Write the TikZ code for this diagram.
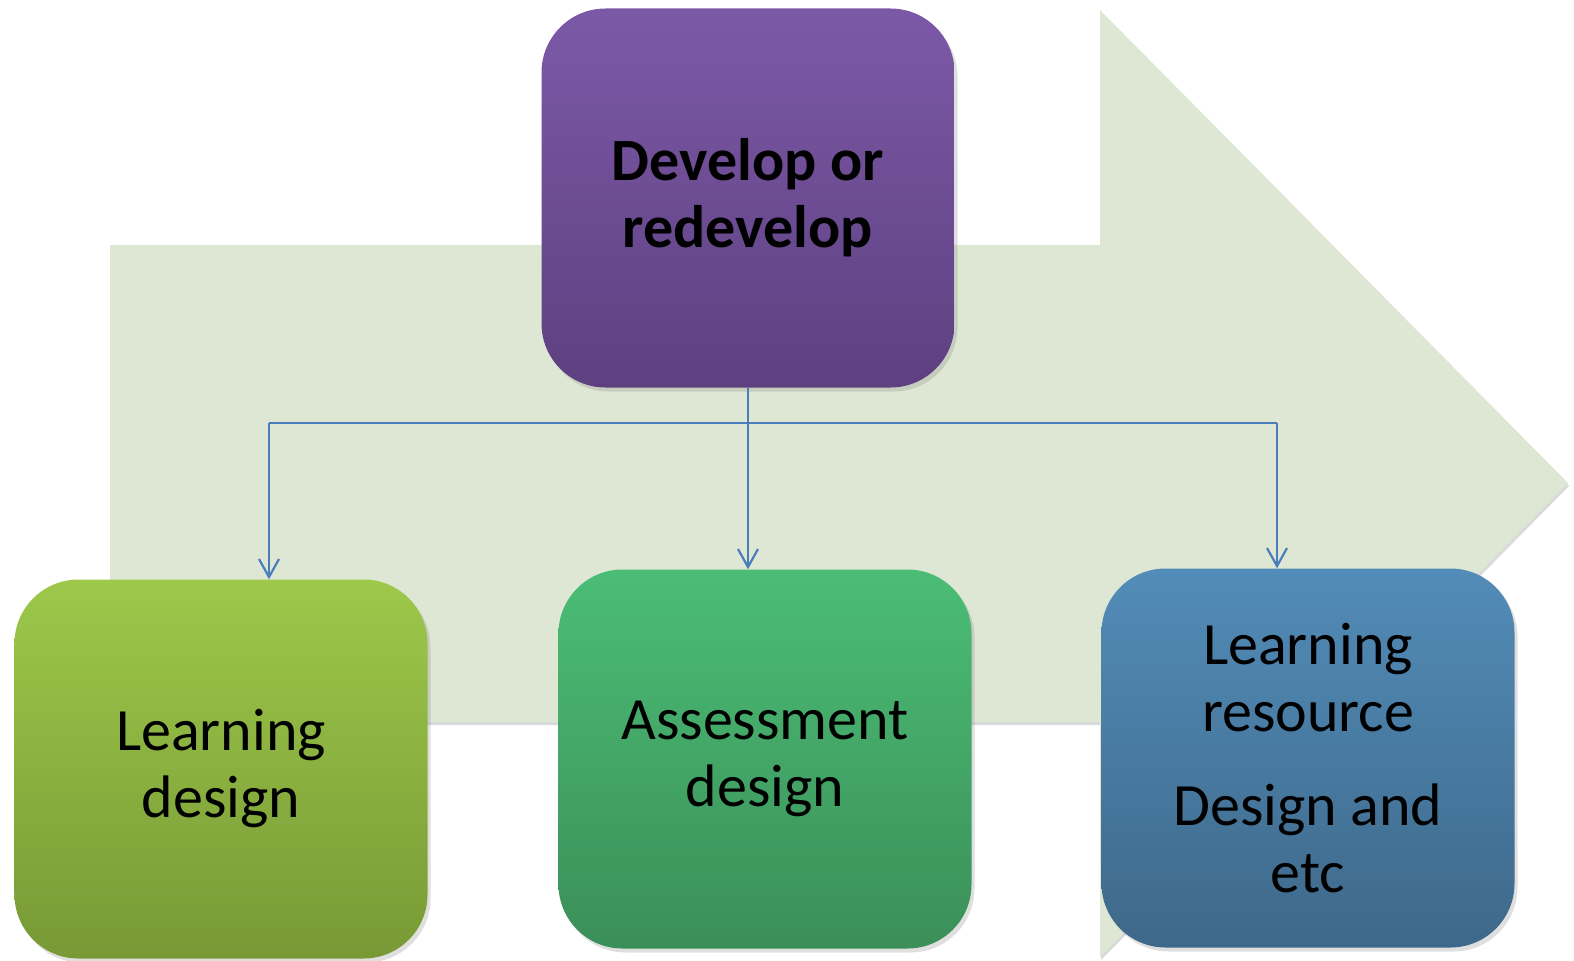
\documentclass[tikz,border=0pt]{standalone}
\usepackage{fontspec}
\setmainfont{Carlito}
\usetikzlibrary{arrows.meta,shadows}

\definecolor{arrowgreen}{HTML}{DEE7D3}
\definecolor{linkblue}{HTML}{4A7EBB}
\definecolor{devtop}{HTML}{7C59A7}
\definecolor{devbot}{HTML}{5E4080}
\definecolor{learntop}{HTML}{9DC84A}
\definecolor{learnbot}{HTML}{789935}
\definecolor{assesstop}{HTML}{4BBD75}
\definecolor{assessbot}{HTML}{3B8F59}
\definecolor{restop}{HTML}{528CB8}
\definecolor{resbot}{HTML}{3E6889}

\newcommand{\boxfont}{\fontsize{60bp}{67bp}\selectfont}

\begin{document}
\begin{tikzpicture}[x=1bp,y=-1bp,
	stepbox/.style={rounded corners=64bp,minimum width=413bp,minimum height=379bp,
		inner sep=0pt,align=center,font=\boxfont,
		drop shadow={opacity=0.25,shadow xshift=3bp,shadow yshift=-4bp}},
	link/.style={draw=linkblue,line width=2.2bp,-{Straight Barb[length=18bp,width=20bp]}}]
	\useasboundingbox (0,0) rectangle (1574,960);

	%big arrow behind
	\fill[arrowgreen,drop shadow={opacity=0.3,shadow xshift=1bp,shadow yshift=-3bp}]
		(110,245) -- (1100,245) -- (1100,10) -- (1568,483)
		-- (1100,957) -- (1100,722) -- (110,722) -- cycle;

	%boxes
	\node[stepbox,top color=devtop,bottom color=devbot,font=\boxfont\bfseries] (dev) at (748,198) {Develop or\\redevelop};
	\node[stepbox,top color=learntop,bottom color=learnbot] (learn) at (221,769) {Learning\\design};
	\node[stepbox,top color=assesstop,bottom color=assessbot] (assess) at (765,759) {Assessment\\design};
	\node[stepbox,top color=restop,bottom color=resbot] (res) at (1308,758) {Learning\\resource\\[27bp]Design and\\etc};

	%connectors
	\coordinate (lhook) at (269,423);
	\coordinate (rhook) at (1277,423);
	\draw[link] (dev.south) -- (dev.south |- assess.north);
	\draw[link,-] (lhook) -- (rhook);
	\foreach \hook/\target in {lhook/learn,rhook/res} {
		\draw[link] (\hook) -- (\hook |- \target.north);
	}
\end{tikzpicture}
\end{document}
